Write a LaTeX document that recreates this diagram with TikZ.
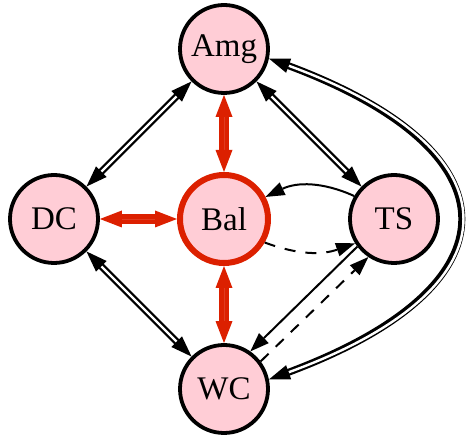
\documentclass[tikz,border=0pt]{standalone}
\usepackage{fontspec}
\setmainfont{Liberation Serif}
\usetikzlibrary{arrows.meta}

\definecolor{nodepink}{RGB}{255,205,214}
\definecolor{balred}{RGB}{220,32,0}

\tikzset{
  state/.style={circle,draw,line width=3.8pt,fill=nodepink,minimum size=88pt,inner sep=0pt,
    font=\fontsize{33}{33}\selectfont},
  hub/.style={state,draw=balred,line width=6pt},
  bothway/.style={draw=white,line width=2.4pt,
    {Triangle[length=21pt,width=15pt,line width=0pt,color=black]}-{Triangle[length=21pt,width=15pt,line width=0pt,color=black]},
    preaction={draw=black,-,line width=7pt,shorten <=14pt,shorten >=14pt}},
  redway/.style={draw=balred!88!white,line width=0.8pt,
    {Triangle[length=22pt,width=17pt,line width=0pt,color=balred]}-{Triangle[length=22pt,width=17pt,line width=0pt,color=balred]},
    preaction={draw=balred,-,line width=10pt,shorten <=16pt,shorten >=16pt}},
  oneway/.style={line width=2pt,-{Triangle[length=19pt,width=14pt,line width=0pt]}},
  dashway/.style={oneway,dash pattern=on 11pt off 10pt}
}

\begin{document}
\begin{tikzpicture}[x=1pt,y=1pt]
\useasboundingbox (0,0) rectangle (466,435);

\node[state] (Amg) at (224,386) {Amg};
\node[state] (DC) at (54,216) {DC};
\node[hub] (Bal) at (224,216) {Bal};
\node[state] (TS) at (394,216) {TS};
\node[state] (WC) at (224,46) {WC};

% double edges
\draw[bothway] (Amg) -- (DC);
\draw[bothway] (DC) -- (WC);
\draw[bothway] (Amg) -- (TS);
\draw[bothway] (Amg.-12) to[out=-20,in=20,looseness=2.15] (WC.12);

% hub edges
\draw[redway] (Bal) -- (Amg);
\draw[redway] (Bal) -- (DC);
\draw[redway] (Bal) -- (WC);

% single edges
\draw[oneway] (TS.150) to[bend right=25] (Bal.28);
\draw[dashway] (Bal.-30) to[bend right=20] (TS.212);
\draw[oneway] (TS.217) -- (WC.55);
\draw[dashway] (WC.37) -- (TS.236);
\end{tikzpicture}
\end{document}
